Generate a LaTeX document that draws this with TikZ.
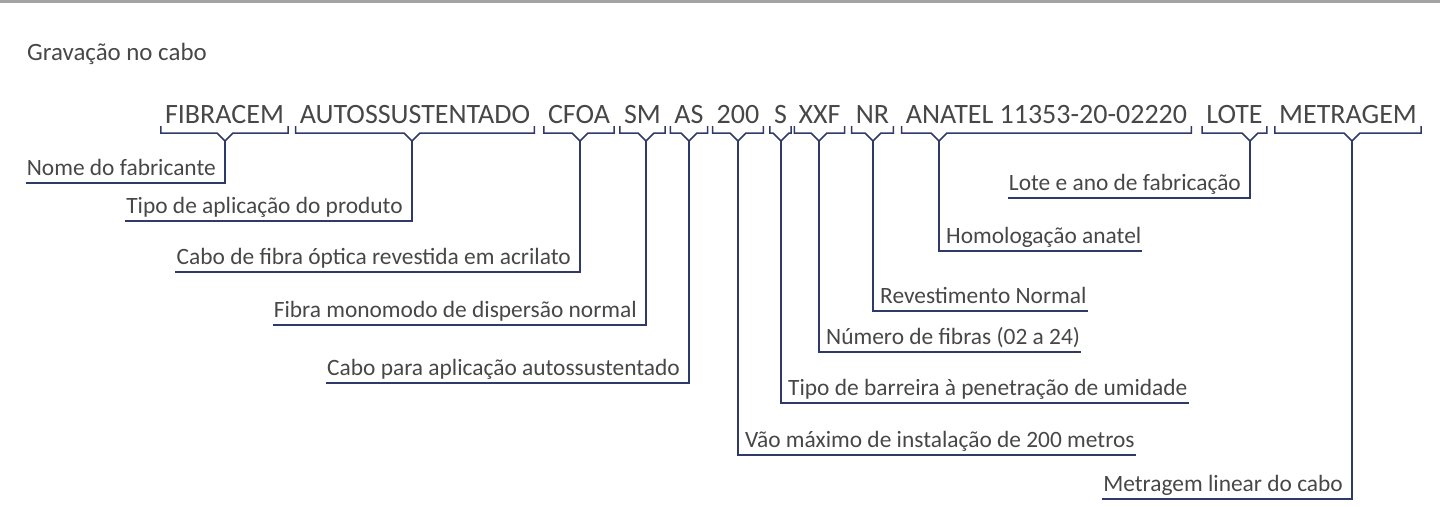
\documentclass[tikz,border=0pt]{standalone}
\usepackage{fontspec}
\setmainfont{Carlito}
\definecolor{txt}{HTML}{474747}
\definecolor{navy}{HTML}{2F3A6B}
\definecolor{topgray}{HTML}{A3A3A3}
\newcommand{\codebr}[2]{%
  \coordinate (#1a) at (#2,141);
  \draw[br] (#1.base west |- ytop) -- (#1.base west |- ybar) -- ({#2-8},133) -- (#1a) -- ({#2+8},133) -- (#1.base east |- ybar) -- (#1.base east |- ytop);
}
\begin{document}
\begin{tikzpicture}[x=1pt,y=-1pt,
  br/.style={draw=navy,line width=1.5pt,line join=miter},
  codeword/.style={anchor=base,inner xsep=4pt,inner ysep=0pt,text=txt,font=\fontsize{28}{30}\selectfont},
  lbl/.style={inner xsep=1pt,inner ysep=0pt,text=txt,font=\fontsize{23.4}{26}\selectfont},
  lleft/.style={lbl,anchor=base east},
  lright/.style={lbl,anchor=base west},
  heading/.style={anchor=base west,inner sep=0pt,text=txt,font=\fontsize{24.9}{27}\selectfont}]
\useasboundingbox (0,0) rectangle (1440,506);
\fill[topgray] (0,0) rectangle (1440,2.5);
\coordinate (ytop) at (0,126);
\coordinate (ybar) at (0,133);
\node[heading] (title) at (27,60) {Gravação no cabo};
% code words
\node[codeword] (w1) at (224.5,123) {FIBRACEM};
\node[codeword] (w2) at (415,123) {AUTOSSUSTENTADO};
\node[codeword] (w3) at (579,123) {CFOA};
\node[codeword] (w4) at (642.5,123) {SM};
\node[codeword] (w5) at (689,123) {AS};
\node[codeword] (w6) at (738,123) {200};
\node[codeword] (w7) at (780.5,123) {S};
\node[codeword] (w8) at (819.5,123) {XXF};
\node[codeword] (w9) at (872.5,123) {NR};
\node[codeword] (w10) at (1046.5,123) {ANATEL 11353-20-02220};
\node[codeword] (w11) at (1234.5,123) {LOTE};
\node[codeword] (w12) at (1348,123) {METRAGEM};
\codebr{w1}{225}
\codebr{w2}{412}
\codebr{w3}{580}
\codebr{w4}{646}
\codebr{w5}{689}
\codebr{w6}{738}
\codebr{w7}{781}
\codebr{w8}{819}
\codebr{w9}{873}
\codebr{w10}{939}
\codebr{w11}{1250}
\codebr{w12}{1352}
% labels
\node[lleft] (l1) at (217,175) {Nome do fabricante};
\node[lleft] (l2) at (404,213) {Tipo de aplicação do produto};
\node[lleft] (l3) at (572,264) {Cabo de fibra óptica revestida em acrilato};
\node[lleft] (l4) at (638,317) {Fibra monomodo de dispersão normal};
\node[lleft] (l5) at (681,375) {Cabo para aplicação autossustentado};
\node[lright] (l6) at (744,447) {Vão máximo de instalação de 200 metros};
\node[lright] (l7) at (787,395) {Tipo de barreira à penetração de umidade};
\node[lright] (l8) at (825,344) {Número de fibras (02 a 24)};
\node[lright] (l9) at (879,303) {Revestimento Normal};
\node[lright] (l10) at (945,243) {Homologação anatel};
\node[lleft] (l11) at (1242,190) {Lote e ano de fabricação};
\node[lleft] (l12) at (1344,491) {Metragem linear do cabo};
% leaders
\draw[br] (w1a) |- ([yshift=-8pt]l1.base west);
\draw[br] (w2a) |- ([yshift=-8pt]l2.base west);
\draw[br] (w3a) |- ([yshift=-8pt]l3.base west);
\draw[br] (w4a) |- ([yshift=-8pt]l4.base west);
\draw[br] (w5a) |- ([yshift=-8pt]l5.base west);
\draw[br] (w6a) |- ([yshift=-8pt]l6.base east);
\draw[br] (w7a) |- ([yshift=-8pt]l7.base east);
\draw[br] (w8a) |- ([yshift=-8pt]l8.base east);
\draw[br] (w9a) |- ([yshift=-8pt]l9.base east);
\draw[br] (w10a) |- ([yshift=-8pt]l10.base east);
\draw[br] (w11a) |- ([yshift=-8pt]l11.base west);
\draw[br] (w12a) |- ([yshift=-8pt]l12.base west);
\end{tikzpicture}
\end{document}
